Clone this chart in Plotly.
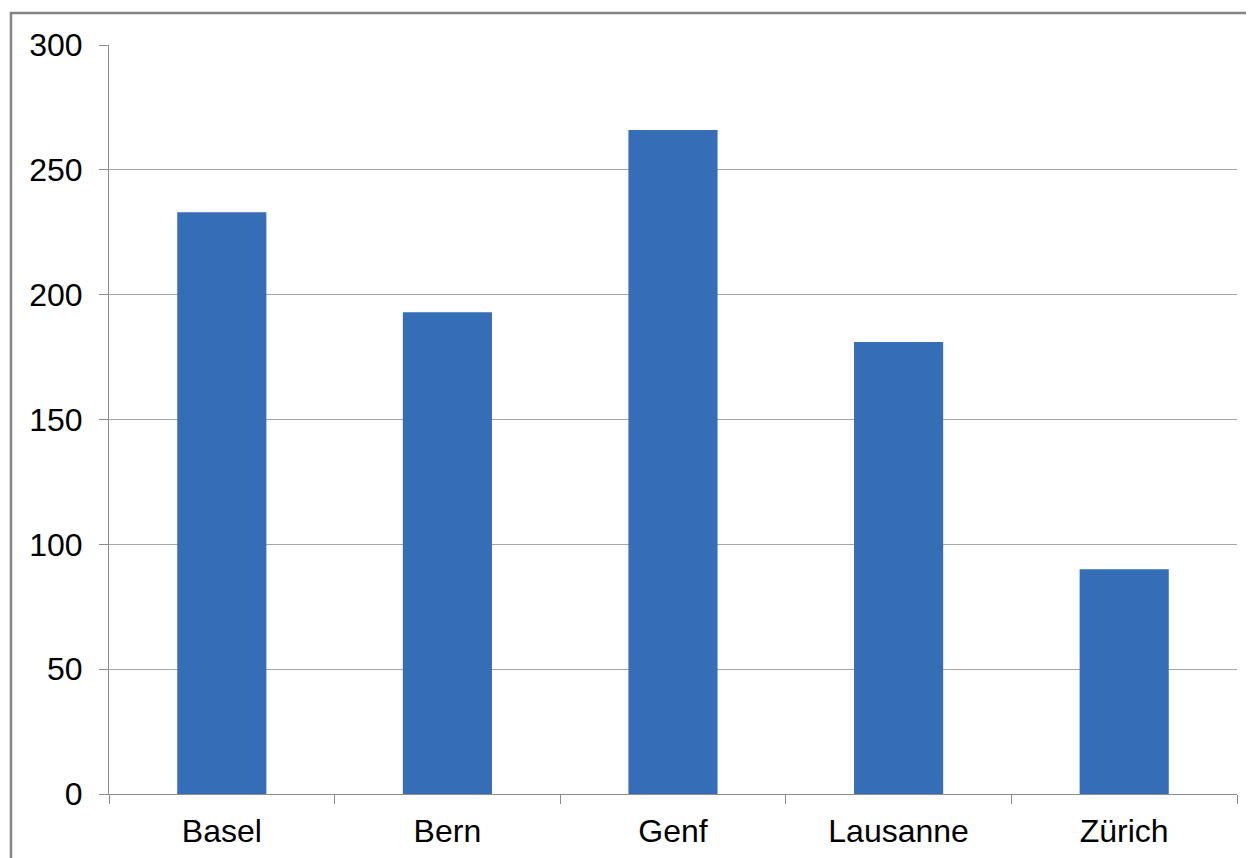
import plotly.graph_objects as go

categories = ["Basel", "Bern", "Genf", "Lausanne", "Zürich"]
values = [233, 193, 266, 181, 90]
y_ticks = [0, 50, 100, 150, 200, 250, 300]

fig = go.Figure()
fig.add_trace(go.Bar(
    x=categories, y=values,
    marker=dict(color="#356DB6", line=dict(width=0)),
    width=0.395,
))

grid_col = "#A6A6A6"
axis_col = "#8C8C8C"
fnt = dict(family="Liberation Sans, Arial, sans-serif", size=32, color="#000000")

fig.update_layout(
    width=1254, height=858,
    margin=dict(l=101, r=25, t=37, b=72),
    paper_bgcolor="white", plot_bgcolor="white",
    showlegend=False,
    font=fnt,
    xaxis=dict(
        type="category",
        showline=True, linecolor=axis_col, linewidth=1,
        ticks="outside", ticklen=9, tickcolor=axis_col, tickwidth=1,
        tickson="boundaries",
        showgrid=False, zeroline=False,
        tickfont=fnt,
        ticklabelstandoff=9,
    ),
    yaxis=dict(
        range=[0, 300], tickvals=y_ticks,
        showline=True, linecolor=axis_col, linewidth=1,
        ticks="outside", ticklen=9, tickcolor=axis_col, tickwidth=1,
        showgrid=True, gridcolor=grid_col, gridwidth=1,
        zeroline=False,
        tickfont=fnt,
        ticklabelstandoff=10,
    ),
    shapes=[dict(
        type="rect", xref="paper", yref="paper",
        x0=-0.0869, x1=1.2, y0=-0.2, y1=1.0427,
        line=dict(color="#858585", width=2.5),
        fillcolor="rgba(0,0,0,0)", layer="below",
    )],
)

fig.write_html("out.html")
